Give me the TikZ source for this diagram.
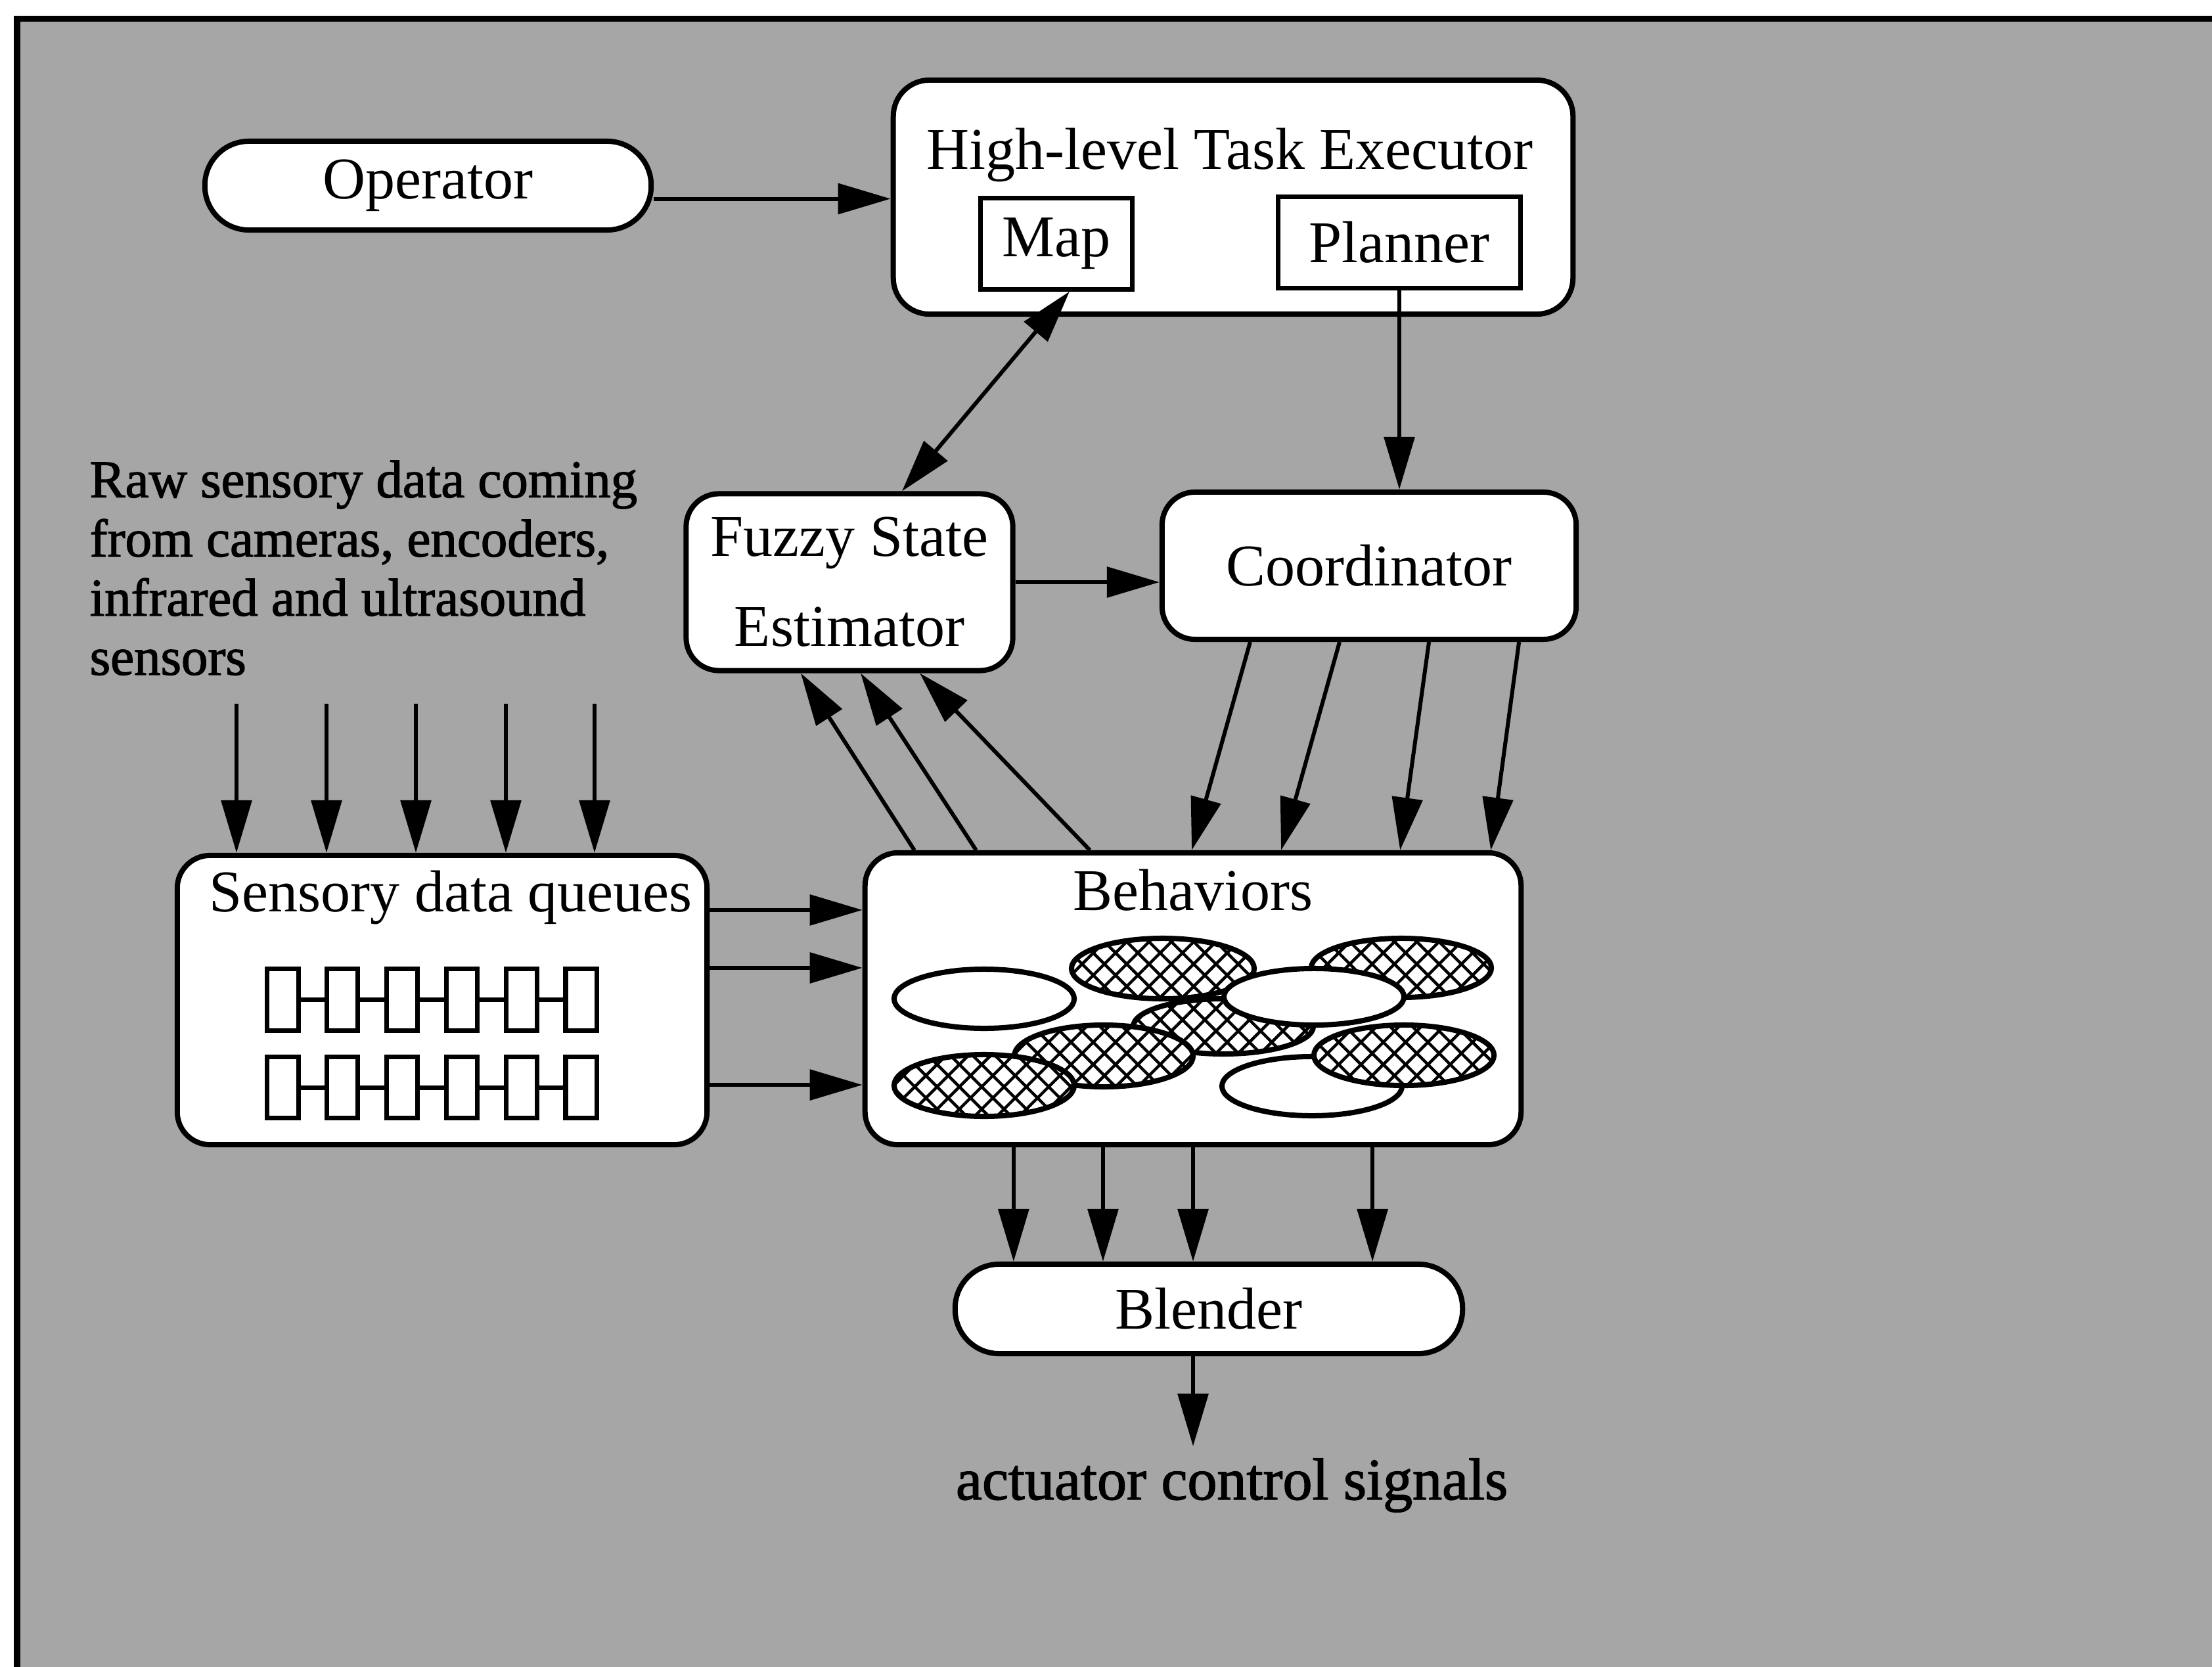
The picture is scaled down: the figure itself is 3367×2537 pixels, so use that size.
\documentclass[tikz,border=0pt]{standalone}
\usepackage{fontspec}
\setmainfont{Liberation Serif}
\newfontfamily\heavyfont[FakeBold=1.6]{Liberation Serif}
\usetikzlibrary{arrows.meta,patterns.meta,calc}
\tikzset{
  box/.style={draw, line width=0.08cm, fill=white, rounded corners=0.5cm, inner sep=0, align=center},
  pill/.style={box, rounded corners=0.67cm},
  subbox/.style={draw, line width=0.07cm, fill=white, inner sep=0},
  qcell/.style={draw, line width=0.07cm, fill=white, minimum width=0.47cm, minimum height=0.93cm, inner sep=0},
  arr/.style={line width=0.06cm, -{Triangle[length=0.8cm,width=0.46cm]}},
  darr/.style={line width=0.06cm, {Triangle[length=0.8cm,width=0.46cm]}-{Triangle[length=0.8cm,width=0.46cm]}},
  plainline/.style={line width=0.07cm},
}
\newcommand\hatchell[4]{%
  \fill[white] (#1,#2) ellipse [x radius=#3, y radius=#4];
  \fill[pattern={Lines[angle=45,distance=0.24cm,line width=0.045cm]}] (#1,#2) ellipse [x radius=#3, y radius=#4];
  \fill[pattern={Lines[angle=-45,distance=0.24cm,line width=0.045cm]}] (#1,#2) ellipse [x radius=#3, y radius=#4];
  \draw[line width=0.08cm] (#1,#2) ellipse [x radius=#3, y radius=#4];}
\newcommand\whiteell[4]{%
  \filldraw[fill=white, line width=0.08cm] (#1,#2) ellipse [x radius=#3, y radius=#4];}
\begin{document}
\begin{tikzpicture}[x=0.01cm, y=-0.01cm, font=\fontsize{25.6}{30}\selectfont]
\useasboundingbox (0,0) rectangle (3367,2537);
\clip (0,0) rectangle (3367,2537);
\fill[white] (0,0) rectangle (3367,2537);
% patterned frame
\draw[line width=0.09cm, fill=black!35] (26,29) rectangle (3420,2600);

% nodes
\node[pill, minimum width=6.79cm, minimum height=1.35cm] (opr) at (651.5,282.5) {Operator};
\node[box, rounded corners=0.55cm, minimum width=10.34cm, minimum height=3.56cm] (hlte) at (1877,300) {};
\node[anchor=base, inner sep=0] (hlteT) at (1872,258) {High-level Task Executor};
\node[subbox, minimum width=2.31cm, minimum height=1.38cm] (map) at (1608,371) {Map};
\node[subbox, minimum width=3.69cm, minimum height=1.39cm] (plan) at (2130,369) {Planner};

\node[box, minimum width=4.97cm, minimum height=2.69cm, font=\fontsize{25.6}{39}\selectfont] (fse) at (1293,886) {Fuzzy State\\Estimator};
\node[box, minimum width=6.30cm, minimum height=2.24cm] (coord) at (2084,861) {Coordinator};

\node[anchor=north west, inner sep=0, align=left, font=\heavyfont\fontsize{23}{25.6}\selectfont] (raw) at (136,700) {Raw sensory data coming\\from cameras, encoders,\\infrared and ultrasound\\sensors};

\node[box, minimum width=8.06cm, minimum height=4.40cm] (queues) at (673,1522) {};
\node[anchor=base, inner sep=0] (queuesT) at (686,1387) {Sensory data queues};
\foreach \i in {0,...,5} {
  \node[qcell] (qa\i) at ({430.5+90.8*\i},1521.5) {};
  \node[qcell] (qb\i) at ({430.5+90.8*\i},1655) {};
}
\foreach \i/\j in {0/1,1/2,2/3,3/4,4/5} {
  \draw[plainline] (qa\i.east) -- (qa\j.west);
  \draw[plainline] (qb\i.east) -- (qb\j.west);
}

\node[box, minimum width=9.98cm, minimum height=4.44cm] (beh) at (1816,1520) {};
\node[anchor=base, inner sep=0] (behT) at (1816,1385) {Behaviors};
% behaviour ellipses
\hatchell{2133}{1473}{1.37cm}{0.45cm}
\hatchell{1770}{1474}{1.39cm}{0.46cm}
\whiteell{1498}{1520}{1.37cm}{0.45cm}
\hatchell{1862}{1562}{1.37cm}{0.42cm}
\whiteell{2000}{1517}{1.37cm}{0.43cm}
\hatchell{1680}{1607}{1.36cm}{0.47cm}
\hatchell{1498}{1652}{1.37cm}{0.47cm}
\whiteell{1997}{1653}{1.37cm}{0.45cm}
\hatchell{2137}{1606}{1.37cm}{0.46cm}

\node[pill, minimum width=7.72cm, minimum height=1.36cm] (bl) at (1840,1992) {Blender};
\node[anchor=base, inner sep=0, font=\heavyfont\fontsize{25.6}{30}\selectfont] (act) at (1875,2282) {actuator control signals};

% connectors
\draw[arr] ([yshift=-0.2cm]opr.east) -- ([yshift=-0.2cm]opr.east -| hlte.west);
\draw[darr] ([xshift=0.2cm]map.south) -- ([xshift=0.8cm]fse.north);
\draw[arr] (plan.south) -- (plan.south |- coord.north);
\draw[arr] (fse.east) -- (fse.east -| coord.west);

\foreach \x [count=\n] in {360,497,633,770,905} {
  \coordinate (s\n) at (\x,1071);
  \draw[arr] (s\n) -- (s\n |- queues.north);
}

\foreach \dy in {1.37,0.49,-1.29} {
  \draw[arr] ([yshift=\dy cm]queues.east) -- ([yshift=\dy cm]queues.east -| beh.west);
}

\draw[arr] ([xshift=-4.24cm]beh.north) -- ([xshift=-0.74cm]fse.south);
\draw[arr] ([xshift=-3.30cm]beh.north) -- ([xshift=0.17cm]fse.south);
\draw[arr] ([xshift=-1.57cm]beh.north) -- ([xshift=1.07cm]fse.south);

\draw[arr] ([xshift=-1.81cm]coord.south) -- ([xshift=-0.02cm]beh.north);
\draw[arr] ([xshift=-0.45cm]coord.south) -- ([xshift=1.34cm]beh.north);
\draw[arr] ([xshift=0.91cm]coord.south) -- ([xshift=3.15cm]beh.north);
\draw[arr] ([xshift=2.28cm]coord.south) -- ([xshift=4.53cm]beh.north);

\foreach \dx in {-2.73,-1.37,0,2.73} {
  \draw[arr] ([xshift=\dx cm]beh.south) -- ([xshift=\dx cm]beh.south |- bl.north);
}
\coordinate (actend) at (1816,2201);
\draw[arr] (bl.south -| actend) -- (actend);
\end{tikzpicture}
\end{document}
